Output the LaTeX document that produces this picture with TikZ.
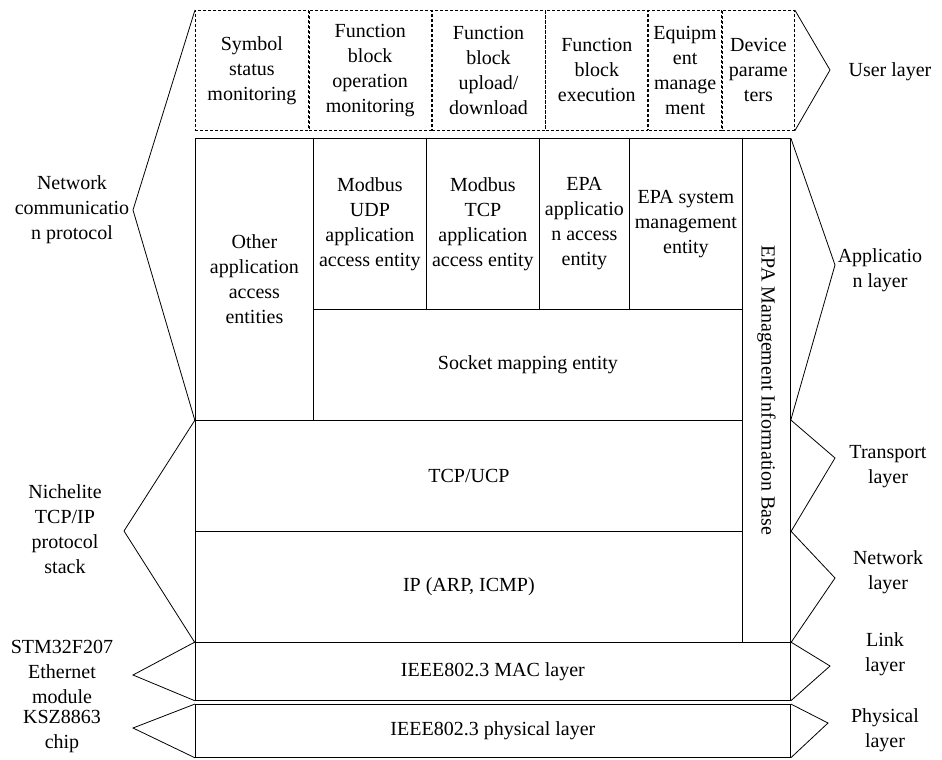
\documentclass[tikz,border=0pt]{standalone}
\usepackage{fontspec}
\setmainfont{Liberation Serif}
\usetikzlibrary{positioning}

\begin{document}
\begin{tikzpicture}[x=1pt, y=-1pt, font=\fontsize{20}{25}\selectfont, line width=0.8pt,
    cell/.style = {draw, rectangle, inner sep=0pt, align=center, anchor=north west},
    usercell/.style = {cell, dash pattern=on 3pt off 2pt, minimum height=120pt},
    lbl/.style = {align=center}]
    \useasboundingbox (0,0) rectangle (942,760);

    % user layer
    \node[usercell, minimum width=113pt] (symbol) at (195,10) {Symbol\\status\\monitoring};
    \node[usercell, minimum width=122pt] (fbop) [right=0pt of symbol] {Function\\block\\operation\\monitoring};
    \node[usercell, minimum width=113pt] (fbload) [right=0pt of fbop] {Function\\block\\upload/\\download};
    \node[usercell, minimum width=102pt] (fbexec) [right=0pt of fbload] {Function\\block\\execution};
    \node[usercell, minimum width=73pt] (equip) [right=0pt of fbexec] {Equipm\\ent\\manage\\ment};
    \node[usercell, minimum width=72pt] (devpar) [right=0pt of equip] {Device\\parame\\ters};

    % application layer
    \node[cell, minimum width=118pt, minimum height=282pt] (other) at (195,138) {Other\\application\\access\\entities};
    \node[cell, minimum width=113pt, minimum height=171pt] (udp) at (313,138) {Modbus\\UDP\\application\\access entity};
    \node[cell, minimum width=113pt, minimum height=171pt] (tcp) at (426,138) {Modbus\\TCP\\application\\access entity};
    \node[cell, minimum width=90pt, minimum height=171pt] (epaacc) at (539,138) {EPA\\applicatio\\n access\\entity};
    \node[cell, minimum width=113pt, minimum height=171pt] (epasys) at (629,138) {EPA system\\management\\entity};
    \node[cell, minimum width=429pt, minimum height=111pt] (socket) at (313,309) {Socket mapping entity};
    \node[cell, minimum width=48pt, minimum height=504pt] (mib) at (742,138) {};
    \node[rotate=-90] (mibtext) at (mib.center) {EPA Management Information Base};

    % lower layers
    \node[cell, minimum width=547pt, minimum height=111pt] (tcpucp) at (195,420) {TCP/UCP};
    \node[cell, minimum width=547pt, minimum height=111pt] (ip) at (195,531) {IP (ARP, ICMP)};
    \node[cell, minimum width=595pt, minimum height=58pt] (mac) at (195,642) {IEEE802.3 MAC layer};
    \node[cell, minimum width=595pt, minimum height=53pt] (phy) at (195,704) {IEEE802.3 physical layer};

    % right brackets
    \coordinate (userpk) at (830,70);
    \coordinate (apppk) at (835,265);
    \coordinate (transpk) at (835,458);
    \coordinate (netpk) at (835,578);
    \coordinate (linkpk) at (830,666);
    \coordinate (phypk) at (828,723);
    \draw (devpar.north east) -- (userpk) -- (devpar.south east);
    \draw (mib.north east) -- (apppk) -- (mib.east |- tcpucp.north);
    \draw (mib.east |- tcpucp.north) -- (transpk) -- (mib.east |- tcpucp.south);
    \draw (mib.east |- ip.north) -- (netpk) -- (mib.south east);
    \draw (mac.north east) -- (linkpk) -- (mac.south east);
    \draw (phy.north east) -- (phypk) -- (phy.south east);

    \node[lbl] (userlbl) at (890,72) {User layer};
    \node[lbl] (applbl) at (880,270) {Applicatio\\n layer};
    \node[lbl] (translbl) at (888,467) {Transport\\layer};
    \node[lbl] (netlbl) at (888,572) {Network\\layer};
    \node[lbl] (linklbl) at (885,654) {Link\\layer};
    \node[lbl] (phylbl) at (885,730) {Physical\\layer};

    % left brackets
    \coordinate (protpk) at (133,210);
    \coordinate (stackpk) at (124,531);
    \coordinate (ethpk) at (133,675);
    \coordinate (chippk) at (133,728);
    \draw (symbol.north west) -- (protpk) -- (other.south west);
    \draw (tcpucp.north west) -- (stackpk) -- (ip.south west);
    \draw (mac.north west) -- (ethpk) -- (mac.south west);
    \draw (phy.north west) -- (chippk) -- (phy.south west);

    \node[lbl] (protlbl) at (72,210) {Network\\communicatio\\n protocol};
    \node[lbl] (stacklbl) at (65,529) {Nichelite\\TCP/IP\\protocol\\stack};
    \node[lbl] (ethlbl) at (62,672) {STM32F207\\Ethernet\\module};
    \node[lbl] (chiplbl) at (62,731) {KSZ8863\\chip};
\end{tikzpicture}
\end{document}
